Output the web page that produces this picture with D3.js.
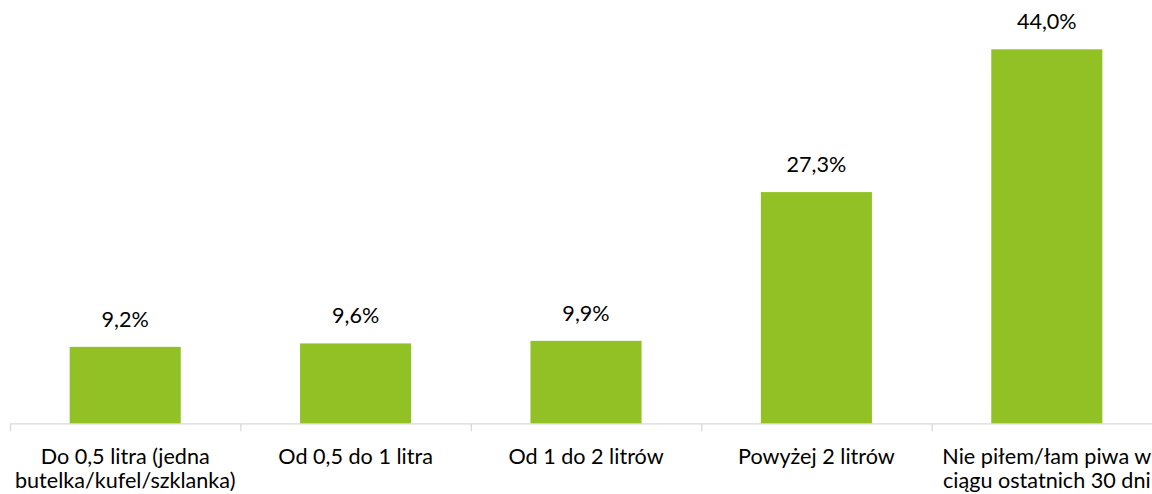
<!DOCTYPE html>
<html><head><meta charset="utf-8">
<script src="https://cdn.jsdelivr.net/npm/d3@7"></script>
<style>html,body{margin:0;padding:0;background:#fff;overflow:hidden}</style>
</head><body>
<svg id="chart" width="1152" height="494"></svg>
<script>
const categories = [
  ["Do 0,5 litra (jedna", "butelka/kufel/szklanka)"],
  ["Od 0,5 do 1 litra"],
  ["Od 1 do 2 litrów"],
  ["Powyżej 2 litrów"],
  ["Nie piłem/łam piwa w", "ciągu ostatnich 30 dni"]
];
const values = [9.2, 9.6, 9.9, 27.3, 44.0];
const valueLabels = ["9,2%", "9,6%", "9,9%", "27,3%", "44,0%"];

const svg = d3.select("#chart");
const font = "Lato, 'Open Sans', sans-serif";
const fs = 21.6;
const axisY = 423.8;
const x = d3.scaleBand().domain(d3.range(values.length)).range([10, 1162]).paddingInner(0.518).paddingOuter(0.259);
const xTicks = d3.scaleBand().domain(d3.range(values.length)).range([10, 1162]);
const y = d3.scaleLinear().domain([0, 44]).range([425.5, 49.3]);

svg.selectAll("rect.bar").data(values).join("rect")
  .attr("class","bar")
  .attr("x",(d,i)=>x(i)).attr("width",x.bandwidth())
  .attr("y",d=>y(d)).attr("height",d=>axisY-y(d))
  .attr("fill","#92C126");

// axis
const g = svg.append("g");
g.append("line").attr("x1",10).attr("x2",1162).attr("y1",axisY).attr("y2",axisY)
  .attr("stroke","#d9d9d9").attr("stroke-width",1.3);
const tickPos = d3.range(values.length+1).map(i => i < values.length ? xTicks(i) : 1162);
g.selectAll("line.tick").data(tickPos).join("line").attr("class","tick")
  .attr("x1",d=>d+0.5).attr("x2",d=>d+0.5).attr("y1",axisY).attr("y2",axisY+7.5)
  .attr("stroke","#d9d9d9").attr("stroke-width",1.3);

// value labels
svg.selectAll("text.val").data(values).join("text").attr("class","val")
  .attr("x",(d,i)=>x(i)+x.bandwidth()/2).attr("y",d=>y(d)-20)
  .attr("text-anchor","middle").attr("font-family",font).attr("font-size",fs)
  .attr("fill","#000").text((d,i)=>valueLabels[i]);

// category labels
const cl = svg.selectAll("text.cat").data(categories).join("text").attr("class","cat")
  .attr("text-anchor","middle").attr("font-family",font).attr("font-size",fs).attr("fill","#000");
cl.each(function(lines,i){
  const t = d3.select(this);
  lines.forEach((ln,j)=>{
    t.append("tspan").attr("x", xTicks(i)+xTicks.bandwidth()/2).attr("y", 463.5 + j*24).text(ln);
  });
});
</script>
</body></html>
